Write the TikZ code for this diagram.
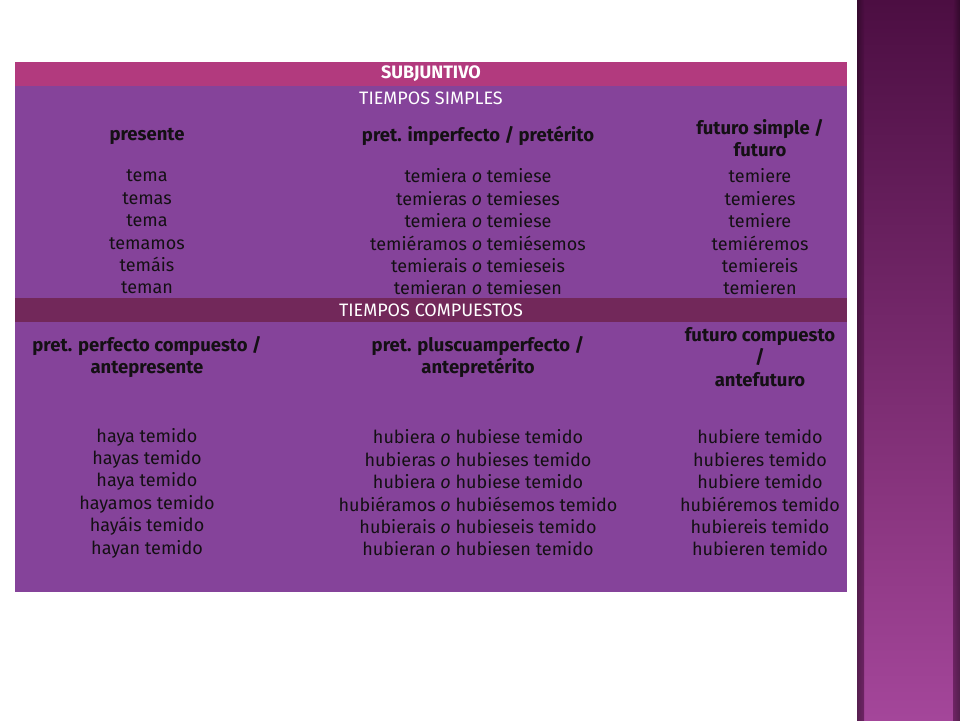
\documentclass[tikz,border=0pt]{standalone}
\usepackage{fontspec}
\setmainfont{Fira Sans}
\definecolor{pinkhdr}{HTML}{B23A7E}
\definecolor{purp}{HTML}{85439A}
\definecolor{darkhdr}{HTML}{72285A}
\definecolor{stripetop}{HTML}{4C0E42}
\definecolor{stripebot}{HTML}{A4469A}
\definecolor{txt}{HTML}{141014}
\begin{document}
\begin{tikzpicture}[x=1pt,y=-1pt,
  cell/.style={font=\fontsize{18}{22.4}\selectfont,text=txt,align=center,inner sep=0},
  hd/.style={cell,font=\fontsize{18.5}{22.4}\selectfont\bfseries},
  band/.style={font=\fontsize{18}{20}\selectfont,text=white,inner sep=0}]
\useasboundingbox (0,0) rectangle (960,720);
\fill[white] (0,0) rectangle (960,720);
% right stripe
\shade[top color=stripetop,bottom color=stripebot] (857,0) rectangle (960,720);
\shade[left color=black!50!stripetop,right color=stripetop,opacity=0.6] (857,0) rectangle (864,720);
\shade[left color=stripetop,right color=black!60!stripetop,opacity=0.6] (953,0) rectangle (960,720);
% table
\fill[purp] (15,62) rectangle (847,592);
\fill[pinkhdr] (15,62) rectangle (847,86);
\fill[darkhdr] (15,298) rectangle (847,322);
\node[band,font=\fontsize{18}{20}\selectfont\bfseries] (subj) at (431,74) {SUBJUNTIVO};
\node[band] (simp) at (431,98) {TIEMPOS SIMPLES};
\node[band] (comp) at (431,310) {TIEMPOS COMPUESTOS};
% simple headers
\node[hd] (h1) at (147,136) {presente};
\node[hd] (h2) at (478,136) {pret. imperfecto / pretérito};
\node[hd] (h3) at (760,138) {futuro simple /\\futuro};
% simple data
\node[cell] (d1) at (147,232) {tema\\temas\\tema\\temamos\\temáis\\teman};
\node[cell] (d2) at (478,232) {temiera \textit{o} temiese\\temieras \textit{o} temieses\\temiera \textit{o} temiese\\temiéramos \textit{o} temiésemos\\temierais \textit{o} temieseis\\temieran \textit{o} temiesen};
\node[cell] (d3) at (760,232) {temiere\\temieres\\temiere\\temiéremos\\temiereis\\temieren};
% compound headers
\node[hd] (c1) at (147,357) {pret. perfecto compuesto /\\antepresente};
\node[hd] (c2) at (478,357) {pret. pluscuamperfecto /\\antepretérito};
\node[hd] (c3) at (760,357) {futuro compuesto\\/\\antefuturo};
% compound data
\node[cell] (e1) at (147,493) {haya temido\\hayas temido\\haya temido\\hayamos temido\\hayáis temido\\hayan temido};
\node[cell] (e2) at (478,493) {hubiera \textit{o} hubiese temido\\hubieras \textit{o} hubieses temido\\hubiera \textit{o} hubiese temido\\hubiéramos \textit{o} hubiésemos temido\\hubierais \textit{o} hubieseis temido\\hubieran \textit{o} hubiesen temido};
\node[cell] (e3) at (760,493) {hubiere temido\\hubieres temido\\hubiere temido\\hubiéremos temido\\hubiereis temido\\hubieren temido};
\end{tikzpicture}
\end{document}
